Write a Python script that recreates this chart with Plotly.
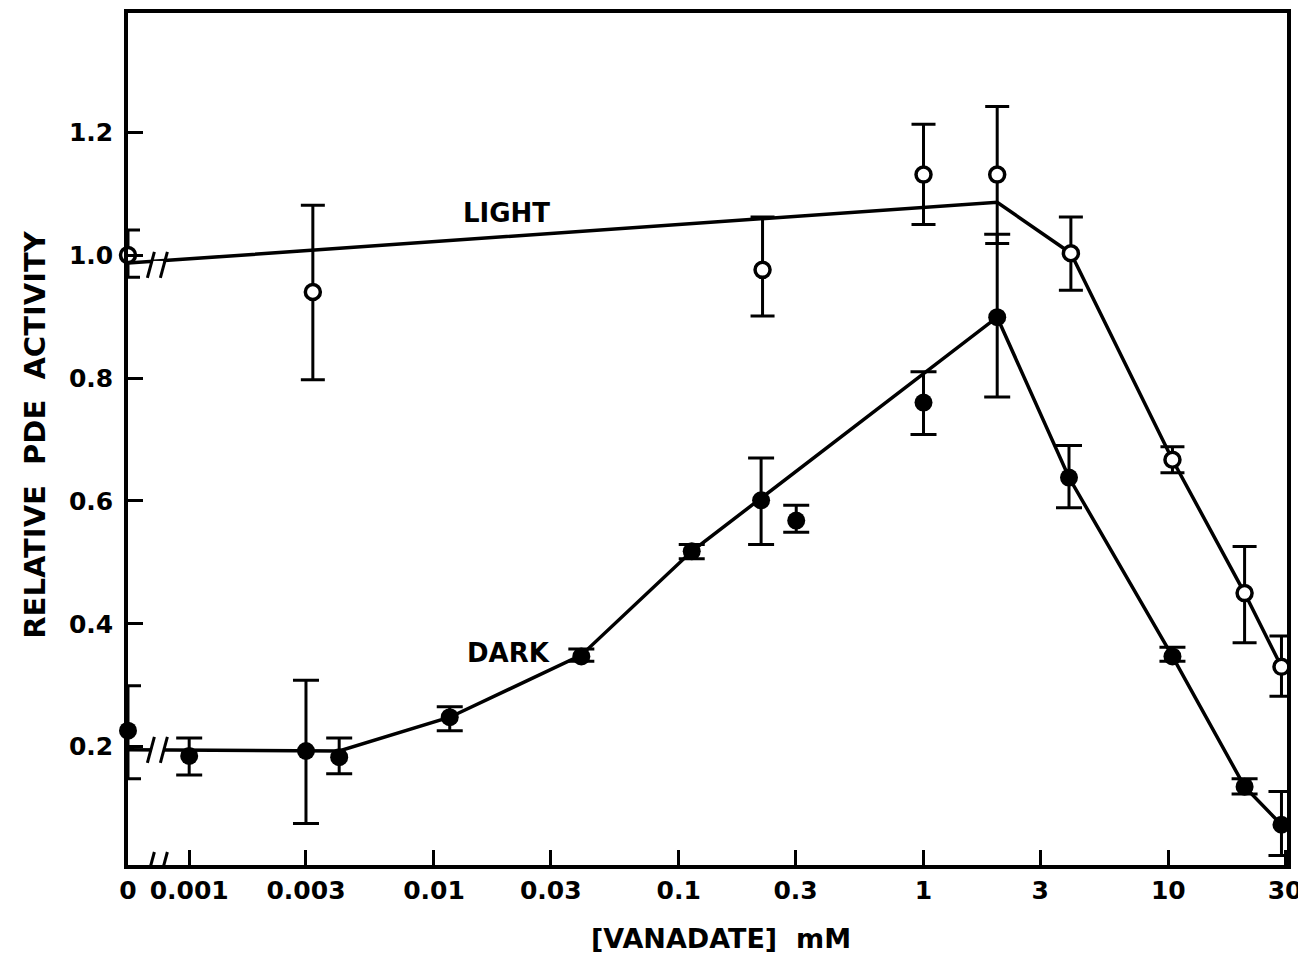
import math
import plotly.graph_objects as go

# ---------------- data ----------------
x_tick_values = [0, 0.001, 0.003, 0.01, 0.03, 0.1, 0.3, 1, 3, 10, 30]
x_tick_labels = ["0", "0.001", "0.003", "0.01", "0.03", "0.1", "0.3", "1", "3", "10", "30"]
y_tick_values = [0.2, 0.4, 0.6, 0.8, 1.0, 1.2]
y_tick_labels = ["0.2", "0.4", "0.6", "0.8", "1.0", "1.2"]

light_x = [0, 0.0032, 0.22, 1, 2, 4, 10.4, 20.5, 29]
light_y = [1.0, 0.94, 0.976, 1.131, 1.131, 1.003, 0.667, 0.450, 0.330]
light_err_plus = [0.041, 0.141, 0.086, 0.082, 0.111, 0.059, 0.021, 0.076, 0.050]
light_err_minus = [0.036, 0.143, 0.075, 0.081, 0.112, 0.060, 0.021, 0.081, 0.048]

dark_x = [0, 0.001, 0.003, 0.0041, 0.0116, 0.040, 0.113, 0.217, 0.302, 1, 2, 3.93, 10.4, 20.5, 29]
dark_y = [0.226, 0.185, 0.193, 0.183, 0.248, 0.347, 0.518, 0.601, 0.568, 0.760, 0.899, 0.638, 0.347, 0.135, 0.073]
dark_err_plus = [0.073, 0.029, 0.115, 0.031, 0.017, 0.012, 0.011, 0.069, 0.025, 0.050, 0.135, 0.052, 0.015, 0.013, 0.054]
dark_err_minus = [0.078, 0.031, 0.118, 0.027, 0.022, 0.008, 0.012, 0.072, 0.019, 0.052, 0.130, 0.049, 0.008, 0.012, 0.050]

light_line_x = [0, 2, 4, 10.4, 20.5, 29]
light_line_y = [0.987, 1.086, 1.003, 0.667, 0.450, 0.330]
dark_line_x = [0, 0.0041, 0.0116, 0.040, 0.113, 2, 3.93, 10.4, 20.5, 29]
dark_line_y = [0.195, 0.193, 0.248, 0.349, 0.518, 0.899, 0.638, 0.347, 0.135, 0.073]

# ---------------- axis layout constants ----------------
ZERO_LOG = -3.25           # where "0" sits on the broken log axis
BREAK_LOG = -3.13          # position of the axis break
X_RANGE = [ZERO_LOG, 1.485]
Y_RANGE = [0.0075, 1.394]


def pos(v):
    return 10 ** ZERO_LOG if v == 0 else v


FONT = "DejaVu Sans"
INK = "black"

fig = go.Figure()

fig.add_trace(go.Scatter(
    x=[pos(v) for v in light_line_x], y=light_line_y, mode="lines",
    line=dict(color=INK, width=3.5), cliponaxis=False, showlegend=False))
fig.add_trace(go.Scatter(
    x=[pos(v) for v in dark_line_x], y=dark_line_y, mode="lines",
    line=dict(color=INK, width=3.5), cliponaxis=False, showlegend=False))

fig.add_trace(go.Scatter(
    x=[pos(v) for v in light_x], y=light_y, mode="markers",
    marker=dict(symbol="circle", size=15, color="white", line=dict(color=INK, width=3.5)),
    error_y=dict(type="data", array=light_err_plus, arrayminus=light_err_minus,
                 color=INK, thickness=3, width=12),
    cliponaxis=False, showlegend=False))
fig.add_trace(go.Scatter(
    x=[pos(v) for v in dark_x], y=dark_y, mode="markers",
    marker=dict(symbol="circle", size=18, color=INK, line=dict(color=INK, width=0)),
    error_y=dict(type="data", array=dark_err_plus, arrayminus=dark_err_minus,
                 color=INK, thickness=3, width=13),
    cliponaxis=False, showlegend=False))

# axis-break marks "//"
break_paper_x = (BREAK_LOG - X_RANGE[0]) / (X_RANGE[1] - X_RANGE[0])
shapes = []
for yref, yval in [("y", light_line_y[0] - 0.003), ("y", dark_line_y[0]), ("y", Y_RANGE[0])]:
    common = dict(xref="paper", yref=yref, xsizemode="pixel", ysizemode="pixel",
                  xanchor=break_paper_x, yanchor=yval, layer="above")
    shapes.append(dict(type="rect", x0=-6, x1=6, y0=-4, y1=4,
                       fillcolor="white", line=dict(width=0), **common))
    shapes.append(dict(type="line", x0=-10, x1=-3, y0=-13, y1=13,
                       line=dict(color=INK, width=3), **common))
    shapes.append(dict(type="line", x0=3, x1=10, y0=-13, y1=13,
                       line=dict(color=INK, width=3), **common))

annotations = [
    dict(text="LIGHT", x=-1.705, y=1.068, xref="x", yref="y", showarrow=False,
         font=dict(family=FONT, size=26, color=INK, weight="bold")),
    dict(text="DARK", x=-1.697, y=0.352, xref="x", yref="y", showarrow=False,
         font=dict(family=FONT, size=26, color=INK, weight="bold")),
    dict(text="RELATIVE  PDE  ACTIVITY", x=0, y=0.505, xref="paper", yref="paper",
         xshift=-93, textangle=-90, showarrow=False, xanchor="center", yanchor="middle",
         font=dict(family=FONT, size=29, color=INK, weight="bold")),
    dict(text="[VANADATE]  mM", x=0.512, y=0, xref="paper", yref="paper",
         yshift=-73, showarrow=False, xanchor="center", yanchor="middle",
         font=dict(family=FONT, size=27, color=INK, weight="bold")),
]

fig.update_layout(
    width=1300, height=947,
    margin=dict(l=120, r=21, t=1, b=90),
    paper_bgcolor="white", plot_bgcolor="white",
    shapes=shapes, annotations=annotations,
    xaxis=dict(type="log", range=X_RANGE,
               tickvals=[pos(v) for v in x_tick_values], ticktext=x_tick_labels,
               ticks="inside", ticklen=15, tickwidth=3, tickcolor=INK,
               showline=True, linewidth=3.5, linecolor=INK, mirror=True,
               showgrid=False, zeroline=False, ticklabeloverflow="allow",
               tickfont=dict(family=FONT, size=25, color=INK, weight="bold")),
    yaxis=dict(type="linear", range=Y_RANGE,
               tickvals=y_tick_values, ticktext=y_tick_labels,
               ticks="inside", ticklen=15, tickwidth=3, tickcolor=INK,
               showline=True, linewidth=3.5, linecolor=INK, mirror=True,
               showgrid=False, zeroline=False, ticklabelstandoff=6,
               tickfont=dict(family=FONT, size=25, color=INK, weight="bold")),
)

fig.write_html("out.html")
